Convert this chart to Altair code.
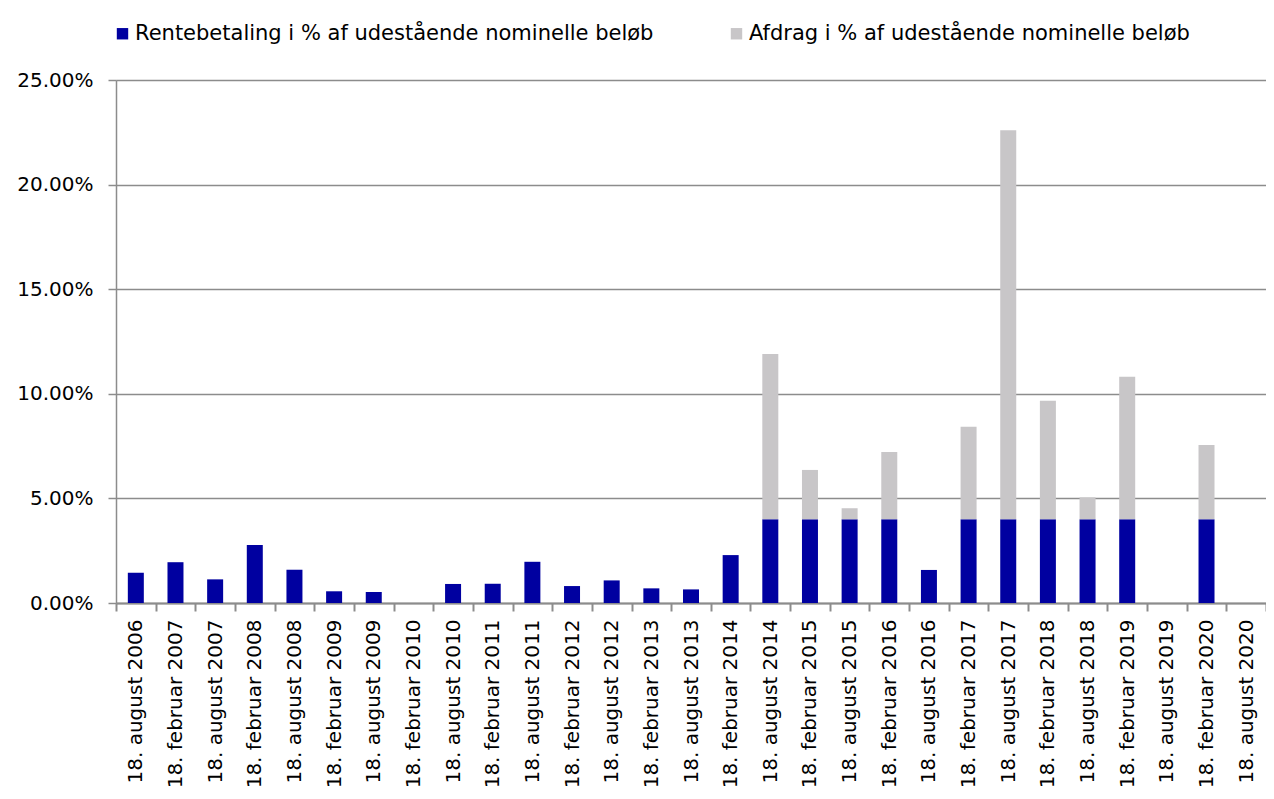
import altair as alt
import pandas as pd

dates = [
    "18. august 2006", "18. februar 2007", "18. august 2007", "18. februar 2008",
    "18. august 2008", "18. februar 2009", "18. august 2009", "18. februar 2010",
    "18. august 2010", "18. februar 2011", "18. august 2011", "18. februar 2012",
    "18. august 2012", "18. februar 2013", "18. august 2013", "18. februar 2014",
    "18. august 2014", "18. februar 2015", "18. august 2015", "18. februar 2016",
    "18. august 2016", "18. februar 2017", "18. august 2017", "18. februar 2018",
    "18. august 2018", "18. februar 2019", "18. august 2019", "18. februar 2020",
    "18. august 2020",
]
rente = [
    1.45, 1.95, 1.13, 2.77, 1.59, 0.56, 0.53, 0.0, 0.91, 0.92, 1.97, 0.81,
    1.08, 0.70, 0.65, 2.29, 4.0, 4.0, 4.0, 4.0, 1.58, 4.0, 4.0, 4.0,
    4.0, 4.0, 0.0, 4.0, 0.0,
]
afdrag = [
    0, 0, 0, 0, 0, 0, 0, 0, 0, 0, 0, 0,
    0, 0, 0, 0, 7.9, 2.36, 0.53, 3.22, 0, 4.43, 18.6, 5.67,
    1.05, 6.82, 0, 3.55, 0,
]

s1 = "Rentebetaling i % af udestående nominelle beløb"
s2 = "Afdrag i % af udestående nominelle beløb"

rows = []
for d, r, a in zip(dates, rente, afdrag):
    rows.append({"dato": d, "serie": s1, "vaerdi": r / 100, "ord": 0})
    rows.append({"dato": d, "serie": s2, "vaerdi": a / 100, "ord": 1})
df = pd.DataFrame(rows)

FONT = "DejaVu Sans"

chart = alt.Chart(df).mark_bar(size=16).encode(
    x=alt.X("dato:N", sort=dates, title=None,
            scale=alt.Scale(paddingInner=0, paddingOuter=0),
            axis=alt.Axis(labelAngle=-90, labelFontSize=20, labelFont=FONT,
                          labelColor="black", labelPadding=8, tickBand="extent",
                          tickSize=8, tickColor="#8c8c8c", tickWidth=2,
                          domainColor="#8c8c8c", domainWidth=2, grid=False,
                          labelAlign="right", labelBaseline="middle")),
    y=alt.Y("vaerdi:Q", stack="zero", title=None,
            scale=alt.Scale(domain=[0, 0.25], nice=False),
            axis=alt.Axis(format=".2%", values=[0, 0.05, 0.10, 0.15, 0.20, 0.25],
                          labelFontSize=20, labelFont=FONT, labelColor="black",
                          labelPadding=15, tickSize=8, tickColor="#8c8c8c", tickWidth=1.5,
                          domainColor="#8c8c8c", domainWidth=1.5,
                          grid=True, gridColor="#8c8c8c", gridWidth=1.5)),
    color=alt.Color("serie:N", sort=[s1, s2],
                    scale=alt.Scale(domain=[s1, s2], range=["#0000A0", "#C8C6C8"]),
                    legend=alt.Legend(title=None, orient="none", legendX=-4, legendY=-57,
                                      direction="horizontal", symbolType="square",
                                      symbolSize=130, symbolStrokeWidth=0,
                                      labelFontSize=21, labelFont=FONT, labelColor="black",
                                      columnPadding=72, labelOffset=2, labelLimit=800)),
    order=alt.Order("ord:Q"),
).properties(
    width=1150, height=523,
    autosize=alt.AutoSizeParams(type="none"),
    padding={"left": 108, "top": 72, "right": 0, "bottom": 188},
).configure_view(stroke=None).configure(background="white")

chart.save("out.html", embed_options={"renderer": "svg", "actions": False})
